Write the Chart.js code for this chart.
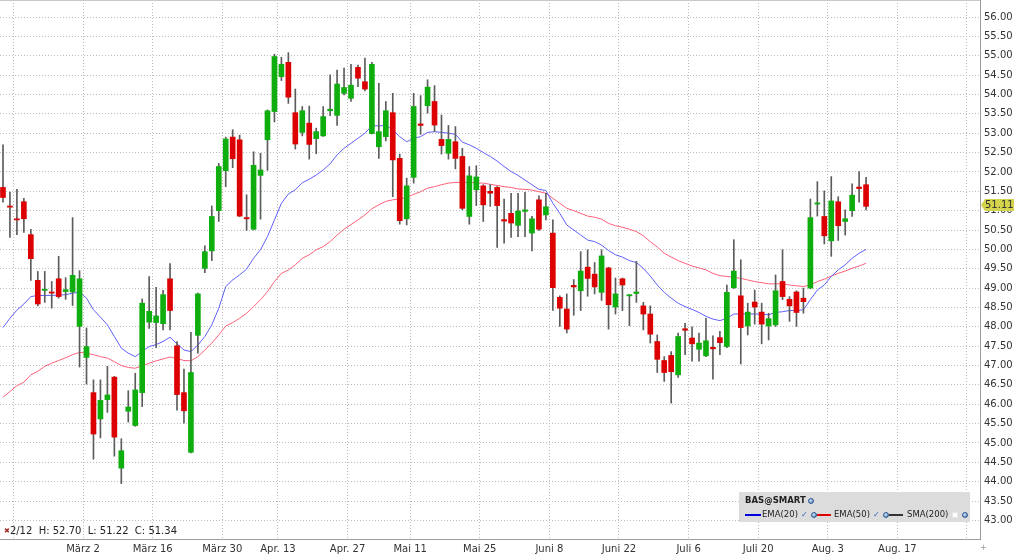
<!DOCTYPE html>
<html>
<head>
<meta charset="utf-8">
<title>BAS@SMART</title>
<script src="https://cdn.jsdelivr.net/npm/chart.js@4.4.0/dist/chart.umd.min.js"></script>
<style>
  body { margin: 0; background: #fff; font-family: "DejaVu Sans", sans-serif; }
  #wrap { position: relative; width: 1024px; height: 559px; overflow: hidden; }
  #chart { position: absolute; left: 0; top: 0; }
  #info { position: absolute; left: 4px; top: 525px; font-size: 10px; line-height: 12px; color: #222; white-space: pre; }
  #info .x { color: #a02828; font-size: 7px; vertical-align: 1px; }
  #legend { position: absolute; left: 739px; top: 492px; width: 231px; height: 30px; background: #dcdcdc; }
  #legend span { position: absolute; }
  #legend .t { font-size: 8.5px; line-height: 11px; color: #222; white-space: nowrap; }
  #legend .b { font-weight: bold; }
  #legend .ln { height: 2px; }
  #legend .chk { font-size: 8px; line-height: 11px; color: #2f62c4; }
  #legend .ico { width: 6px; height: 6px; border-radius: 50%; background: radial-gradient(circle at 35% 35%, #dbe8f7, #3f70b0); border: 1px solid #2d5a94; box-sizing: border-box; }
  #legend .box { width: 6px; height: 6px; background: #fff; border: 1px solid #e6e6e6; box-sizing: border-box; }
  #corner { position: absolute; left: 980px; top: 543px; font-size: 8px; color: #999; }
</style>
</head>
<body>
<div id="wrap">
  <canvas id="chart" width="1024" height="559"></canvas>
  <div id="info"><span class="x">✖</span>2/12  H: 52.70  L: 51.22  C: 51.34</div>
  <div id="legend">
    <span class="t b" style="left:6px;top:3px">BAS@SMART</span>
    <span class="ico" style="left:69px;top:6px"></span>
    <span class="ln" style="left:6px;top:22px;width:16px;background:#0000dd"></span>
    <span class="t" style="left:23px;top:17px">EMA(20)</span>
    <span class="chk" style="left:62px;top:17px">✓</span>
    <span class="ico" style="left:72px;top:20px"></span>
    <span class="ln" style="left:78px;top:22px;width:14px;background:#e00000"></span>
    <span class="t" style="left:95px;top:17px">EMA(50)</span>
    <span class="chk" style="left:134px;top:17px">✓</span>
    <span class="ico" style="left:144px;top:20px"></span>
    <span class="ln" style="left:150px;top:22px;width:14px;background:#333"></span>
    <span class="t" style="left:168px;top:17px">SMA(200)</span>
    <span class="box" style="left:213px;top:20px"></span>
    <span class="ico" style="left:223px;top:20px"></span>
  </div>
  <div id="corner">+</div>
</div>
<script>
// trading days shown
const dates = [
  '2015-02-12','2015-02-13','2015-02-16','2015-02-17','2015-02-18','2015-02-19','2015-02-20','2015-02-23','2015-02-24','2015-02-25','2015-02-26','2015-02-27',
  '2015-03-02','2015-03-03','2015-03-04','2015-03-05','2015-03-06','2015-03-09','2015-03-10','2015-03-11','2015-03-12','2015-03-13','2015-03-16','2015-03-17','2015-03-18','2015-03-19','2015-03-20','2015-03-23','2015-03-24','2015-03-25','2015-03-26','2015-03-27','2015-03-30','2015-03-31',
  '2015-04-01','2015-04-02','2015-04-07','2015-04-08','2015-04-09','2015-04-10','2015-04-13','2015-04-14','2015-04-15','2015-04-16','2015-04-17','2015-04-20','2015-04-21','2015-04-22','2015-04-23','2015-04-24','2015-04-27','2015-04-28','2015-04-29','2015-04-30',
  '2015-05-04','2015-05-05','2015-05-06','2015-05-07','2015-05-08','2015-05-11','2015-05-12','2015-05-13','2015-05-14','2015-05-15','2015-05-18','2015-05-19','2015-05-20','2015-05-21','2015-05-22','2015-05-25','2015-05-26','2015-05-27','2015-05-28','2015-05-29',
  '2015-06-01','2015-06-02','2015-06-03','2015-06-04','2015-06-05','2015-06-08','2015-06-09','2015-06-10','2015-06-11','2015-06-12','2015-06-15','2015-06-16','2015-06-17','2015-06-18','2015-06-19','2015-06-22','2015-06-23','2015-06-24','2015-06-25','2015-06-26','2015-06-29','2015-06-30',
  '2015-07-01','2015-07-02','2015-07-03','2015-07-06','2015-07-07','2015-07-08','2015-07-09','2015-07-10','2015-07-13','2015-07-14','2015-07-15','2015-07-16','2015-07-17','2015-07-20','2015-07-21','2015-07-22','2015-07-23','2015-07-24','2015-07-27','2015-07-28','2015-07-29','2015-07-30','2015-07-31',
  '2015-08-03','2015-08-04','2015-08-05','2015-08-06','2015-08-07','2015-08-10'
];

const open = [
  51.60,51.12,50.79,51.23,50.38,49.20,48.94,48.90,49.24,48.91,
  48.90,48.01,47.21,46.30,45.62,46.12,46.70,44.35,45.82,45.45,
  46.30,48.12,48.11,48.08,49.24,47.51,46.30,44.76,47.78,49.51,
  49.96,51.00,52.03,52.90,52.83,50.82,50.52,51.91,52.83,53.56,
  54.46,54.83,53.53,53.02,53.26,52.86,52.93,53.58,53.46,54.03,
  53.90,54.70,54.33,52.99,52.65,52.91,53.53,52.35,50.79,51.86,
  53.24,53.71,53.82,52.84,52.48,52.78,52.40,50.85,51.54,51.64,
  51.50,51.60,50.77,50.93,50.62,50.98,50.42,51.28,50.89,50.42,
  48.76,48.46,49.07,48.93,49.54,49.36,48.89,49.52,48.51,49.24,
  48.80,48.86,48.54,48.33,47.62,47.13,47.26,46.76,47.95,47.71,
  47.42,47.25,47.47,47.72,47.49,49.01,48.80,48.02,48.64,48.38,
  48.02,48.05,49.17,48.71,48.90,48.74,49.00,51.17,50.85,50.22,
  51.23,50.72,51.00,51.61,51.67
];
const high = [
  52.70,51.48,51.55,51.32,50.52,49.43,49.43,49.17,49.82,49.27,
  50.82,49.45,47.97,46.63,46.63,46.98,46.72,45.11,46.35,46.80,
  48.72,49.30,49.02,48.94,49.63,47.62,46.91,47.86,48.87,50.09,
  51.12,52.22,52.90,53.09,52.95,51.41,52.52,52.48,53.60,55.04,
  54.96,55.08,54.14,53.69,53.70,53.13,53.69,54.51,54.63,54.68,
  54.78,54.76,54.94,54.83,54.29,53.82,54.03,52.46,51.84,54.03,
  53.97,54.38,54.23,53.47,53.20,53.17,52.61,52.14,52.16,51.67,
  51.67,51.62,51.30,51.45,51.45,51.47,50.85,51.38,51.45,50.76,
  48.80,48.85,49.22,49.94,49.99,49.66,49.99,49.54,49.26,49.26,
  48.83,49.69,48.63,48.54,47.79,47.23,47.36,47.84,48.09,48.00,
  47.84,48.22,47.77,47.88,49.08,50.25,49.73,48.61,48.95,48.61,
  48.35,49.34,49.99,48.78,48.93,49.00,51.30,51.75,51.51,51.88,
  51.36,51.02,51.69,52.01,51.86
];
const low = [
  51.22,50.31,50.38,50.44,49.20,48.54,48.63,48.48,48.74,48.71,
  48.55,46.96,46.52,44.58,45.13,45.79,44.66,43.95,45.54,45.43,
  45.94,47.96,47.46,47.92,47.92,45.85,45.51,44.74,47.32,49.40,
  49.71,50.72,51.62,52.11,50.84,50.49,50.50,50.78,52.04,53.29,
  54.36,53.77,52.59,52.93,52.33,52.47,52.92,53.45,53.20,53.99,
  53.82,54.20,54.09,52.98,52.35,52.80,51.36,50.65,50.63,51.71,
  52.97,53.52,53.04,52.46,52.33,52.08,51.02,50.65,51.13,50.72,
  51.11,50.05,50.16,50.31,50.33,50.33,49.96,50.49,50.76,48.42,
  48.01,47.84,48.30,48.42,48.79,48.85,48.68,47.94,48.33,48.42,
  48.03,48.63,47.92,47.58,46.82,46.59,46.03,46.69,47.28,47.11,
  47.11,47.23,46.65,47.28,47.46,48.99,47.04,47.79,48.07,47.56,
  47.66,48.01,48.70,48.14,48.01,48.35,48.98,50.86,50.14,49.82,
  50.23,50.37,50.85,51.22,51.02
];
const close = [
  51.34,51.09,50.76,50.79,49.76,48.59,48.97,48.87,48.78,48.96,
  49.33,49.24,47.49,45.23,46.10,46.24,45.15,44.80,45.93,46.37,
  48.61,48.40,48.28,48.83,48.42,46.25,45.83,46.82,48.85,49.94,
  50.85,52.14,52.85,52.34,50.86,50.79,52.17,52.05,53.58,54.98,
  54.78,53.93,52.72,53.58,52.71,53.04,53.43,53.62,54.27,54.18,
  54.24,54.42,54.14,54.78,53.04,53.58,52.31,50.74,51.64,53.69,
  53.20,54.19,53.21,52.68,52.84,52.35,51.06,51.90,51.87,51.15,
  51.45,51.13,50.73,50.68,50.99,51.02,50.79,50.52,51.10,49.01,
  48.48,47.94,49.03,49.44,49.25,49.03,49.83,48.57,48.85,49.08,
  48.83,48.90,48.33,47.81,47.16,46.82,46.84,47.75,47.91,47.56,
  47.58,47.64,47.43,47.59,48.89,49.44,47.98,48.38,48.51,48.07,
  48.21,48.93,48.78,48.54,48.37,48.65,50.82,51.20,50.35,51.25,
  50.61,50.79,51.40,51.57,51.11
];

// indicator lines
const ema20 = [
  47.98,48.22,48.43,48.59,48.78,48.81,48.81,48.81,48.82,48.83,
  48.87,48.89,48.74,48.44,48.25,48.05,47.75,47.45,47.32,47.23,
  47.36,47.49,47.54,47.62,47.73,47.56,47.40,47.36,47.53,47.75,
  48.05,48.48,49.04,49.21,49.34,49.49,49.77,49.99,50.33,50.76,
  51.19,51.43,51.54,51.72,51.81,51.92,52.05,52.21,52.44,52.61,
  52.74,52.87,53.00,53.19,53.19,53.20,53.09,52.91,52.78,52.87,
  52.91,53.02,53.04,53.02,53.00,52.97,52.77,52.70,52.61,52.50,
  52.40,52.28,52.14,52.01,51.91,51.79,51.67,51.55,51.52,51.19,
  50.93,50.63,50.50,50.37,50.24,50.20,50.11,49.97,49.86,49.80,
  49.71,49.66,49.51,49.31,49.08,48.89,48.74,48.61,48.52,48.45,
  48.37,48.27,48.20,48.16,48.22,48.33,48.33,48.33,48.33,48.33,
  48.31,48.37,48.39,48.42,48.42,48.44,48.70,48.95,49.08,49.30,
  49.47,49.60,49.77,49.90,50.00
];
const ema50 = [
  46.18,46.33,46.48,46.57,46.76,46.85,46.98,47.06,47.13,47.20,
  47.28,47.34,47.32,47.28,47.23,47.19,47.10,47.00,46.95,46.93,
  46.99,47.06,47.12,47.17,47.22,47.18,47.13,47.12,47.23,47.40,
  47.58,47.79,48.02,48.11,48.22,48.35,48.52,48.70,48.91,49.17,
  49.38,49.47,49.60,49.77,49.86,49.99,50.07,50.20,50.37,50.52,
  50.64,50.76,50.89,51.05,51.15,51.24,51.28,51.30,51.34,51.42,
  51.49,51.58,51.62,51.67,51.71,51.73,51.73,51.73,51.72,51.71,
  51.68,51.65,51.62,51.60,51.56,51.55,51.53,51.49,51.45,51.32,
  51.19,51.06,51.00,50.93,50.86,50.83,50.78,50.67,50.61,50.57,
  50.52,50.46,50.35,50.20,50.06,49.90,49.80,49.71,49.64,49.57,
  49.52,49.47,49.38,49.32,49.30,49.28,49.25,49.21,49.17,49.14,
  49.11,49.11,49.11,49.08,49.06,49.04,49.08,49.17,49.23,49.31,
  49.38,49.44,49.51,49.57,49.64
];

// axis labels
const tickDates = ['2015-02-16','2015-03-02','2015-03-16','2015-03-30','2015-04-13','2015-04-27','2015-05-11','2015-05-25','2015-06-08','2015-06-22','2015-07-06','2015-07-20','2015-08-03','2015-08-17','2015-08-31'];
const tickLabels = ['','März 2','März 16','März 30','Apr. 13','Apr. 27','Mai 11','Mai 25','Juni 8','Juni 22','Juli 6','Juli 20','Aug. 3','Aug. 17',''];
const priceTicks = [43.00,43.50,44.00,44.50,45.00,45.50,46.00,46.50,47.00,47.50,48.00,48.50,49.00,49.50,50.00,50.50,51.00,51.50,52.00,52.50,53.00,53.50,54.00,54.50,55.00,55.50,56.00];

const GREEN = '#0fae0f';
const RED = '#dc0000';

// slot index of a date; future dates are counted on in weekdays
function dayIndex(d) {
  const i = dates.indexOf(d);
  if (i >= 0) return i;
  let n = dates.length - 1;
  const t = new Date(dates[n] + 'T00:00:00Z');
  const end = new Date(d + 'T00:00:00Z');
  while (t < end) {
    t.setUTCDate(t.getUTCDate() + 1);
    const w = t.getUTCDay();
    if (w !== 0 && w !== 6) n++;
  }
  return n;
}
// grid lines sit on the left edge of the day slot
const tickPos = tickDates.map(d => dayIndex(d) - 0.5);

const lastPriceTag = {
  id: 'lastPriceTag',
  afterDraw(chart) {
    const { ctx, chartArea } = chart;
    const y = chart.scales.y;
    const v = close[close.length - 1];
    const py = Math.round(y.getPixelForValue(v)) - 1;
    const r = chartArea.right;
    ctx.save();
    // thin frame line on top of the plot
    ctx.strokeStyle = '#c8c8c8';
    ctx.lineWidth = 1;
    ctx.beginPath();
    ctx.moveTo(0, 0.5);
    ctx.lineTo(r, 0.5);
    ctx.stroke();

    ctx.fillStyle = '#d3d34c';
    ctx.beginPath();
    ctx.moveTo(r + 1, py);
    ctx.lineTo(r + 5, py - 6);
    ctx.lineTo(r + 34, py - 6);
    ctx.lineTo(r + 34, py + 6);
    ctx.lineTo(r + 5, py + 6);
    ctx.closePath();
    ctx.fill();
    ctx.fillStyle = '#333';
    ctx.font = '10px "DejaVu Sans"';
    ctx.textBaseline = 'middle';
    ctx.fillText(v.toFixed(2), r + 5, py + 0.5);
    ctx.restore();
  }
};

const ctx = document.getElementById('chart').getContext('2d');
new Chart(ctx, {
  type: 'bar',
  data: {
    datasets: [
      {
        type: 'line',
        label: 'EMA(20)',
        data: ema20.map((v, i) => ({ x: i, y: v })),
        borderColor: '#5f5fff',
        borderWidth: 1,
        pointRadius: 0,
        tension: 0,
        order: 3
      },
      {
        type: 'line',
        label: 'EMA(50)',
        data: ema50.map((v, i) => ({ x: i, y: v })),
        borderColor: '#ff6079',
        borderWidth: 1,
        pointRadius: 0,
        tension: 0,
        order: 3
      },
      {
        label: 'wick',
        data: dates.map((d, i) => ({ x: i, y: [low[i], high[i]] })),
        backgroundColor: '#5c5c5c',
        barThickness: 1,
        grouped: false,
        order: 2
      },
      {
        label: 'body',
        data: dates.map((d, i) => ({ x: i, y: [open[i], close[i]] })),
        backgroundColor: c => close[c.dataIndex] >= open[c.dataIndex] ? GREEN : RED,
        barThickness: 5,
        grouped: false,
        order: 1
      }
    ]
  },
  options: {
    responsive: false,
    animation: false,
    layout: { padding: 0 },
    plugins: { legend: { display: false }, tooltip: { enabled: false } },
    scales: {
      x: {
        type: 'linear',
        min: -0.43,
        max: 140.37,
        offset: false,
        grid: { color: '#bcbcbc', drawTicks: false, offset: false },
        border: { display: true, color: '#9c9c9c', dash: [1, 2] },
        ticks: {
          autoSkip: false,
          maxRotation: 0,
          padding: 4,
          color: '#333',
          font: { family: 'DejaVu Sans', size: 10 },
          callback: v => {
            const k = tickPos.findIndex(p => Math.abs(p - v) < 0.01);
            return k >= 0 ? tickLabels[k] : '';
          }
        },
        afterBuildTicks: s => { s.ticks = tickPos.map(v => ({ value: v })); },
        afterFit: s => { s.height = 20; s.paddingLeft = 0; s.paddingRight = 0; }
      },
      y: {
        position: 'right',
        min: 42.52,
        max: 56.44,
        grid: { color: '#bcbcbc', drawTicks: false },
        border: { display: true, color: '#9c9c9c', dash: [1, 2] },
        ticks: {
          padding: 4,
          color: '#333',
          font: { family: 'DejaVu Sans', size: 10 },
          callback: v => Number(v).toFixed(2)
        },
        afterBuildTicks: s => { s.ticks = priceTicks.map(v => ({ value: v })); },
        afterFit: s => { s.width = 44; s.paddingTop = 0; s.paddingBottom = 0; }
      }
    }
  },
  plugins: [lastPriceTag]
});
</script>
</body>
</html>
